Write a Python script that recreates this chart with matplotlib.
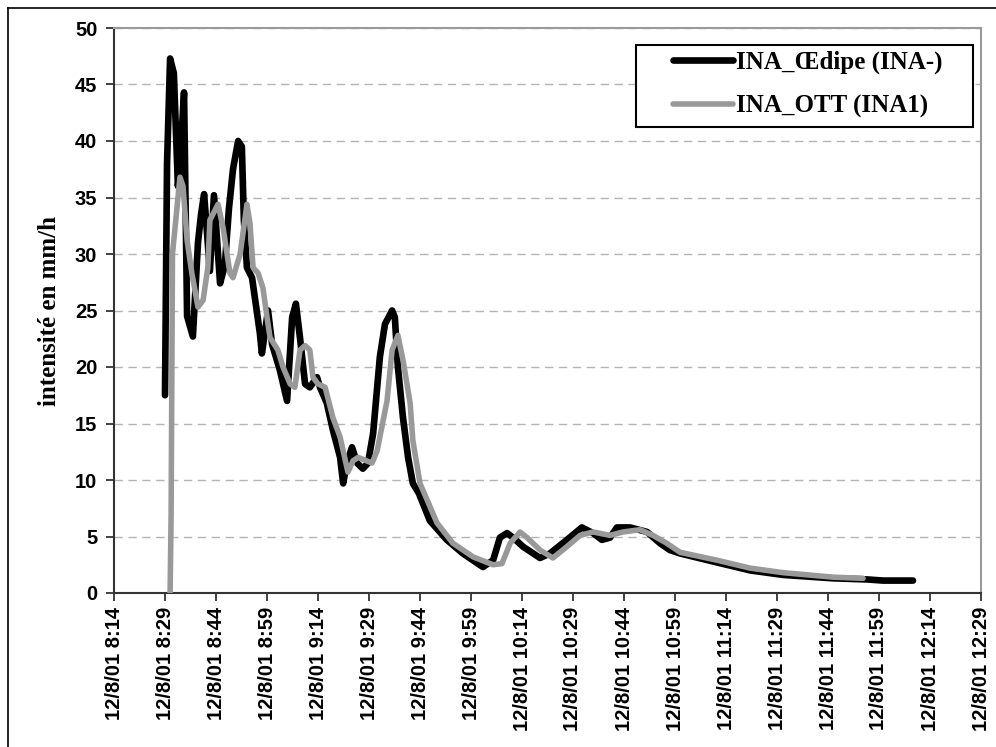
import matplotlib
matplotlib.use("Agg")
import matplotlib.pyplot as plt
import matplotlib.dates as mdates
from matplotlib.lines import Line2D
from matplotlib.patches import Rectangle
from matplotlib.ticker import FuncFormatter, MultipleLocator
import pandas as pd

plt.rcParams["font.family"] = ["Liberation Sans", "DejaVu Sans"]
plt.rcParams["font.weight"] = "bold"

start = pd.Timestamp("2001-08-12 08:14")
end = pd.Timestamp("2001-08-12 12:29")

# minutes after 8:14 and intensity (mm/h)
oedipe_min = [15.0, 15.6, 16.5, 17.6, 18.8, 19.4, 20.6, 21.5, 23.2, 24.7, 25.6, 26.5,
              28.2, 29.4, 31.2, 32.6, 33.8, 35.0, 36.5, 37.6, 38.2, 39.1, 40.6, 42.9,
              43.5, 45.3, 46.5, 48.8, 50.9, 52.4, 53.5, 54.7, 56.2, 57.6, 59.7, 60.6,
              62.6, 64.4, 66.5, 67.4, 68.5, 70.0, 71.5, 73.2, 74.7, 76.2, 78.2, 79.7,
              81.8, 82.6, 83.5, 85.0, 86.5, 87.9, 89.7, 92.9, 97.9, 102.6, 108.5, 111.5,
              113.5, 115.6, 117.4, 120.3, 125.3, 128.2, 133.2, 137.6, 140.9, 143.5,
              145.9, 147.9, 151.8, 156.8, 160.6, 163.5, 166.5, 177.4, 187.1, 196.8,
              211.5, 221.5, 226.2, 235.0]
oedipe_val = [17.5, 38.0, 47.3, 46.0, 36.0, 38.0, 44.3, 24.5, 22.7, 31.0, 33.5, 35.3,
              28.5, 35.2, 27.4, 29.0, 34.0, 37.5, 40.0, 39.5, 33.0, 28.8, 27.9, 23.0,
              21.2, 25.0, 22.0, 19.7, 17.0, 24.4, 25.6, 22.6, 18.5, 18.2, 19.1, 18.2,
              16.8, 14.4, 12.0, 9.7, 11.5, 12.9, 11.5, 11.0, 11.5, 14.1, 20.9, 23.8,
              25.0, 24.4, 20.0, 15.5, 12.0, 9.7, 8.8, 6.4, 4.7, 3.5, 2.3, 2.9,
              4.9, 5.3, 4.9, 4.1, 3.1, 3.5, 4.7, 5.8, 5.3, 4.7,
              4.9, 5.8, 5.8, 5.4, 4.4, 3.8, 3.5, 2.7, 2.0, 1.6,
              1.3, 1.2, 1.1, 1.1]

ott_min = [16.5, 16.8, 17.2, 19.4, 20.3, 21.5, 22.9, 24.7, 26.2, 27.6, 28.2, 30.6,
           32.1, 34.1, 35.0, 37.1, 39.1, 40.0, 40.9, 42.4, 43.8, 45.0, 45.9, 48.2,
           49.7, 51.8, 53.2, 54.7, 56.2, 57.6, 58.5, 60.0, 62.1, 64.4, 66.5, 68.8,
           70.3, 71.8, 75.9, 77.4, 80.3, 81.8, 83.5, 85.0, 87.1, 87.9, 90.0, 95.0,
           99.7, 105.6, 111.5, 114.1, 116.5, 119.4, 121.5, 125.3, 129.1, 133.2,
           137.1, 140.9, 145.9, 149.7, 154.7, 158.5, 162.6, 166.5, 177.4, 187.1,
           196.8, 211.5, 220.3]
ott_val = [0.0, 7.0, 30.0, 36.8, 36.0, 31.2, 28.3, 25.3, 25.9, 28.8, 33.0, 34.4,
           32.3, 28.3, 27.9, 30.0, 34.4, 32.7, 28.8, 28.3, 27.0, 24.4, 22.6, 21.5,
           20.0, 18.5, 18.2, 21.5, 21.9, 21.5, 19.1, 18.5, 18.2, 15.5, 13.8, 10.7,
           11.7, 12.0, 11.5, 12.6, 17.0, 21.5, 22.8, 20.6, 16.8, 13.5, 9.7, 6.2,
           4.4, 3.2, 2.5, 2.6, 4.4, 5.4, 4.9, 3.8, 3.1, 4.1,
           5.1, 5.4, 5.1, 5.4, 5.6, 5.1, 4.4, 3.6, 2.9, 2.2,
           1.8, 1.4, 1.3]

t_oedipe = start + pd.to_timedelta(oedipe_min, unit="min")
t_ott = start + pd.to_timedelta(ott_min, unit="min")

fig = plt.figure(figsize=(9.96, 7.47), dpi=100)
ax = fig.add_axes([114 / 996, 1 - 593 / 747, (981 - 114) / 996, (593 - 28) / 747])

ax.plot(t_oedipe, oedipe_val, color="black", lw=4.8, solid_joinstyle="round",
        solid_capstyle="round", label="INA_Œdipe (INA-)", zorder=3)
ax.plot(t_ott, ott_val, color="#999999", lw=4.0, solid_joinstyle="round",
        solid_capstyle="round", label="INA_OTT (INA1)", zorder=4)

ax.set_xlim(start, end)
ax.set_ylim(0, 50)
ax.yaxis.set_major_locator(MultipleLocator(5))
ax.set_xticks(pd.date_range(start, end, freq="15min"))


def fmt_date(x, pos):
    d = mdates.num2date(x)
    return f"{d.day}/{d.month}/{d.strftime('%y')} {d.hour}:{d.minute:02d}"


ax.xaxis.set_major_formatter(FuncFormatter(fmt_date))
ax.tick_params(axis="x", labelrotation=90, pad=4)
ax.tick_params(axis="y", pad=6)
ax.tick_params(axis="both", direction="out", length=6, width=1.3, color="#333333",
               labelsize=14.5)

ax.grid(axis="y", color="#b4b4b4", lw=1.0, linestyle=(0, (6, 4)))
ax.set_axisbelow(True)

for side in ["left", "bottom"]:
    ax.spines[side].set_color("#333333")
    ax.spines[side].set_linewidth(1.5)
for side in ["top", "right"]:
    ax.spines[side].set_color("#9a9a9a")
    ax.spines[side].set_linewidth(1.5)

ax.set_ylabel("intensité en mm/h", family="Liberation Serif", fontweight="bold",
              fontsize=18, labelpad=10)

# legend box as in the original, entries placed inside it
ax.add_patch(Rectangle((636 / 996, 1 - 127 / 747), (973 - 636) / 996, 82 / 747,
                       transform=fig.transFigure, facecolor="white",
                       edgecolor="black", lw=1.5, zorder=5, clip_on=False))
leg = ax.legend(loc="upper left", bbox_to_anchor=(673 / 996, 1 - 51 / 747),
                bbox_transform=fig.transFigure, borderaxespad=0, borderpad=0,
                frameon=False, handlelength=2.4, handletextpad=0.1,
                labelspacing=0.82,
                prop={"family": "Liberation Serif", "weight": "bold", "size": 18})
leg.set_zorder(6)

# outer frame of the picture
fig.add_artist(Line2D([8 / 996, 8 / 996], [0, 1 - 8 / 747], transform=fig.transFigure,
                      color="black", lw=1.2))
fig.add_artist(Line2D([8 / 996, 1], [1 - 8 / 747, 1 - 8 / 747], transform=fig.transFigure,
                      color="black", lw=1.2))

fig.savefig("out.png", dpi=100)
